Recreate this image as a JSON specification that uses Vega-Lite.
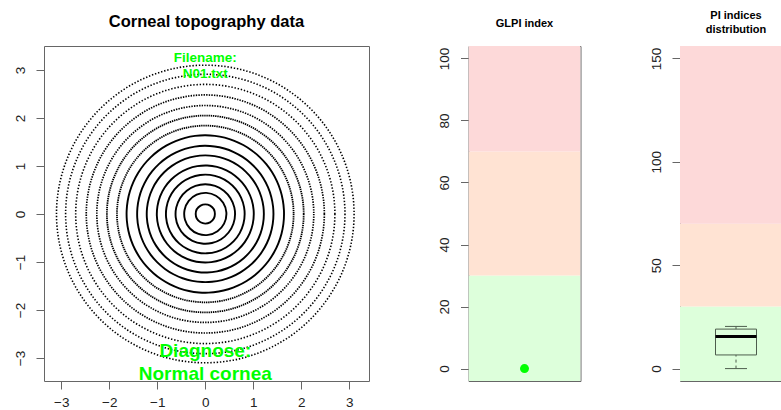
{
  "$schema": "https://vega.github.io/schema/vega-lite/v6.json",
  "background": "white",
  "padding": {"left": 12, "top": 9, "right": 0, "bottom": 0},
  "bounds": "flush",
  "spacing": 99.5,
  "config": {
    "view": {"stroke": "#666666", "strokeWidth": 1},
    "font": "Liberation Sans",
    "axis": {"domain": false, "grid": false, "ticks": true, "tickColor": "#666666", "tickSize": 8, "labelFont": "Liberation Sans", "labelFontSize": 13.5, "labelColor": "#222222", "title": null},
    "axisX": {"labelAngle": 0, "labelPadding": 6},
    "axisY": {"labelAngle": 270, "labelAlign": "center", "labelBaseline": "bottom", "labelPadding": 9},
    "title": {"font": "Liberation Sans", "fontWeight": "bold", "color": "#000000", "anchor": "middle", "baseline": "bottom"}
  },
  "datasets": {
    "rings": [
      {"ring": 1, "cx": 0, "cy": 0, "r": 0.20, "style": "solid"},
      {"ring": 2, "cx": 0, "cy": 0, "r": 0.44, "style": "solid"},
      {"ring": 3, "cx": 0, "cy": 0, "r": 0.62, "style": "solid"},
      {"ring": 4, "cx": 0, "cy": 0, "r": 0.82, "style": "solid"},
      {"ring": 5, "cx": 0, "cy": 0, "r": 1.01, "style": "solid"},
      {"ring": 6, "cx": 0, "cy": 0, "r": 1.22, "style": "solid"},
      {"ring": 7, "cx": 0, "cy": 0, "r": 1.42, "style": "solid"},
      {"ring": 8, "cx": 0, "cy": 0, "r": 1.64, "style": "solid"},
      {"ring": 9, "cx": 0, "cy": 0, "r": 1.84, "style": "fine"},
      {"ring": 10, "cx": 0, "cy": 0, "r": 2.05, "style": "fine"},
      {"ring": 11, "cx": 0, "cy": 0, "r": 2.26, "style": "dot"},
      {"ring": 12, "cx": 0, "cy": 0, "r": 2.48, "style": "dot"},
      {"ring": 13, "cx": 0, "cy": 0, "r": 2.70, "style": "sparse"},
      {"ring": 14, "cx": 0, "cy": 0, "r": 2.91, "style": "sparse"},
      {"ring": 15, "cx": 0, "cy": 0, "r": 3.10, "style": "sparse"}
    ],
    "filename": [
      {"label": "Filename:", "x": 0, "y": 3.24},
      {"label": "N01.txt", "x": 0, "y": 2.91}
    ],
    "diagnosis": [
      {"label": "Diagnose:", "x": 0, "y": -2.86},
      {"label": "Normal cornea", "x": 0, "y": -3.34}
    ],
    "bands": [
      {"zone": "low", "lo": -20, "hi": 30},
      {"zone": "mid", "lo": 30, "hi": 70},
      {"zone": "high", "lo": 70, "hi": 300}
    ],
    "glpi": [{"g": "GLPI", "value": 0}],
    "pi": [{"g": "PI", "lo": 0, "q1": 6.6, "med": 15.5, "q3": 19.1, "hi": 20.4}]
  },
  "hconcat": [
    {
      "width": 325,
      "height": 335,
      "title": {"text": "Corneal topography data", "fontSize": 16.5, "offset": 16},
      "layer": [
        {
          "data": {"name": "rings"},
          "mark": {"type": "point", "shape": "circle", "filled": false, "color": "black", "opacity": 1},
          "encoding": {
            "x": {"field": "cx", "type": "quantitative", "scale": {"domain": [-3.36, 3.41], "nice": false, "zero": false}, "axis": {"values": [-3, -2, -1, 0, 1, 2, 3]}},
            "y": {"field": "cy", "type": "quantitative", "scale": {"domain": [-3.48, 3.5], "nice": false, "zero": false}, "axis": {"values": [-3, -2, -1, 0, 1, 2, 3]}},
            "size": {"field": "r", "type": "quantitative", "scale": {"type": "pow", "exponent": 2, "domain": [0, 3.4], "range": [0, 106540]}, "legend": null},
            "strokeDash": {"field": "style", "type": "nominal", "scale": {"domain": ["solid", "fine", "dot", "sparse"], "range": [[10, 0], [1.4, 0.8], [1.4, 1.2], [1.4, 1.8]]}, "legend": null},
            "strokeWidth": {"field": "style", "type": "nominal", "scale": {"domain": ["solid", "fine", "dot", "sparse"], "range": [1.9, 1.6, 1.5, 1.5]}, "legend": null}
          }
        },
        {
          "data": {"name": "filename"},
          "mark": {"type": "text", "color": "#00FF00", "fontWeight": "bold", "font": "Liberation Sans", "fontSize": 13.5, "baseline": "middle", "align": "center"},
          "encoding": {
            "x": {"field": "x", "type": "quantitative"},
            "y": {"field": "y", "type": "quantitative"},
            "text": {"field": "label"}
          }
        },
        {
          "data": {"name": "diagnosis"},
          "mark": {"type": "text", "color": "#00FF00", "fontWeight": "bold", "font": "Liberation Sans", "fontSize": 19, "baseline": "middle", "align": "center"},
          "encoding": {
            "x": {"field": "x", "type": "quantitative"},
            "y": {"field": "y", "type": "quantitative"},
            "text": {"field": "label"}
          }
        }
      ]
    },
    {
      "width": 112,
      "height": 335,
      "title": {"text": "GLPI index", "fontSize": 11, "offset": 17},
      "layer": [
        {
          "data": {"name": "bands"},
          "mark": {"type": "rect", "clip": true},
          "encoding": {
            "x": {"value": 0},
            "x2": {"value": "width"},
            "y": {"field": "lo", "type": "quantitative", "scale": {"domain": [-4, 104], "nice": false, "zero": false}, "axis": {"values": [0, 20, 40, 60, 80, 100]}},
            "y2": {"field": "hi"},
            "color": {"field": "zone", "type": "nominal", "scale": {"domain": ["low", "mid", "high"], "range": ["#DDFFDB", "#FFE3D3", "#FDD9D9"]}, "legend": null}
          }
        },
        {
          "data": {"name": "glpi"},
          "mark": {"type": "point", "shape": "circle", "filled": true, "color": "#00FF00", "size": 81, "opacity": 1},
          "encoding": {
            "x": {"field": "g", "type": "nominal", "axis": null},
            "y": {"field": "value", "type": "quantitative"}
          }
        }
      ]
    },
    {
      "width": 112,
      "height": 335,
      "title": {"text": ["PI indices", "distribution"], "fontSize": 11, "lineHeight": 14, "offset": 11},
      "layer": [
        {
          "data": {"name": "bands"},
          "mark": {"type": "rect", "clip": true},
          "encoding": {
            "x": {"value": 0},
            "x2": {"value": "width"},
            "y": {"field": "lo", "type": "quantitative", "scale": {"domain": [-6, 156], "nice": false, "zero": false}, "axis": {"values": [0, 50, 100, 150]}},
            "y2": {"field": "hi"},
            "color": {"field": "zone", "type": "nominal", "scale": {"domain": ["low", "mid", "high"], "range": ["#DDFFDB", "#FFE3D3", "#FDD9D9"]}, "legend": null}
          }
        },
        {
          "data": {"name": "pi"},
          "mark": {"type": "rule", "color": "#4d5d4d", "strokeWidth": 1, "strokeDash": [3, 3]},
          "encoding": {
            "x": {"field": "g", "type": "nominal", "axis": null},
            "y": {"field": "lo", "type": "quantitative"},
            "y2": {"field": "q1"}
          }
        },
        {
          "data": {"name": "pi"},
          "mark": {"type": "rule", "color": "#4d5d4d", "strokeWidth": 1, "strokeDash": [3, 3]},
          "encoding": {
            "x": {"field": "g", "type": "nominal", "axis": null},
            "y": {"field": "q3", "type": "quantitative"},
            "y2": {"field": "hi"}
          }
        },
        {
          "data": {"name": "pi"},
          "mark": {"type": "bar", "size": 41, "fill": "transparent", "stroke": "#4d5d4d", "strokeWidth": 1},
          "encoding": {
            "x": {"field": "g", "type": "nominal", "axis": null},
            "y": {"field": "q1", "type": "quantitative"},
            "y2": {"field": "q3"}
          }
        },
        {
          "data": {"name": "pi"},
          "mark": {"type": "tick", "size": 22, "thickness": 1, "color": "#4d5d4d", "opacity": 1},
          "encoding": {
            "x": {"field": "g", "type": "nominal", "axis": null},
            "y": {"field": "lo", "type": "quantitative"}
          }
        },
        {
          "data": {"name": "pi"},
          "mark": {"type": "tick", "size": 22, "thickness": 1, "color": "#4d5d4d", "opacity": 1},
          "encoding": {
            "x": {"field": "g", "type": "nominal", "axis": null},
            "y": {"field": "hi", "type": "quantitative"}
          }
        },
        {
          "data": {"name": "pi"},
          "mark": {"type": "tick", "size": 41, "thickness": 3, "color": "#000000", "opacity": 1},
          "encoding": {
            "x": {"field": "g", "type": "nominal", "axis": null},
            "y": {"field": "med", "type": "quantitative"}
          }
        }
      ]
    }
  ]
}
